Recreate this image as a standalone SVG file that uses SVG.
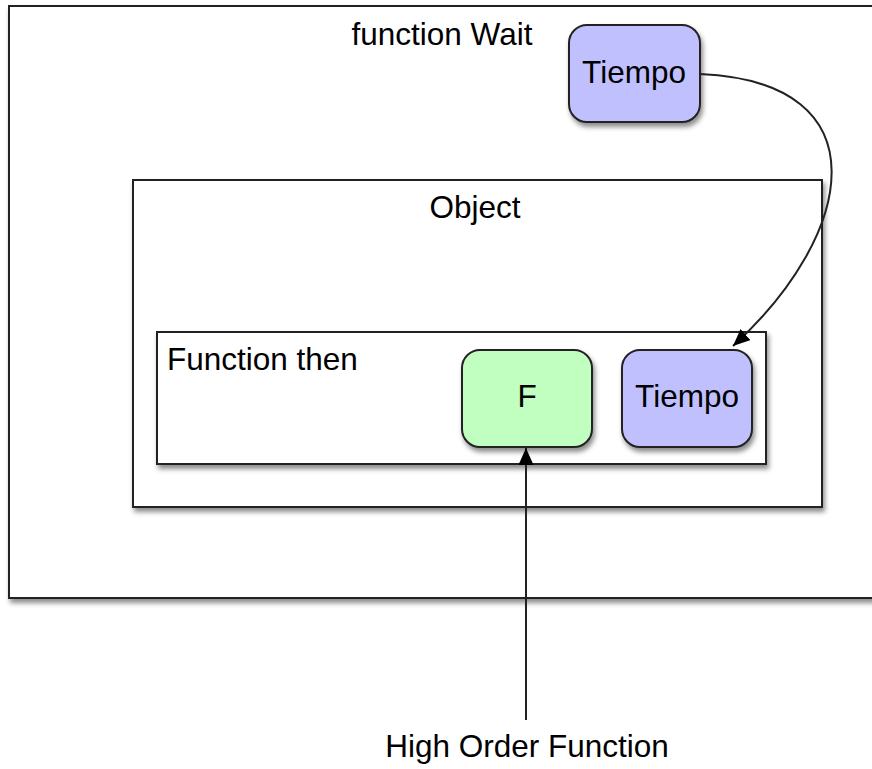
<svg xmlns="http://www.w3.org/2000/svg" width="872" height="769" viewBox="0 0 872 769">
<defs>
<filter id="sh" x="-10%" y="-10%" width="130%" height="130%">
<feDropShadow dx="2" dy="4" stdDeviation="2.5" flood-color="#000" flood-opacity="0.45"/>
</filter>
<marker id="ah2" viewBox="0 0 10 10" refX="10" refY="5" markerWidth="17" markerHeight="15" markerUnits="userSpaceOnUse" orient="auto" preserveAspectRatio="none">
<path d="M0,0 L10,5 L0,10 Z" fill="#000"/>
</marker>
</defs>
<style>
.box{fill:#fff;stroke:#222;stroke-width:2;filter:url(#sh)}
.node{stroke:#222;stroke-width:2;filter:url(#sh)}
.blue{fill:#c0c0ff}
.green{fill:#c0ffc0}
text{font-family:"Liberation Sans",Arial,sans-serif;font-size:31.5px;fill:#000}
.c{text-anchor:middle}
.conn{fill:none;stroke:#222;stroke-width:2}
</style>
<rect width="872" height="769" fill="#fff"/>
<g id="wait">
<rect class="box" x="9" y="6" width="880" height="592"/>
<text class="c" x="442" y="45">function Wait</text>
</g>
<g id="tiempo-top">
<rect class="node blue" x="569" y="25" width="131" height="97" rx="18"/>
<text class="c" x="634" y="83">Tiempo</text>
</g>
<g id="object">
<rect class="box" x="133" y="180" width="689" height="327"/>
<text class="c" x="475" y="218">Object</text>
</g>
<g id="then">
<rect class="box" x="157" y="332" width="609" height="132"/>
<text x="167" y="370">Function then</text>
</g>
<g id="f">
<rect class="node green" x="462" y="350" width="130" height="97" rx="18"/>
<text class="c" x="527" y="407">F</text>
</g>
<g id="tiempo-in">
<rect class="node blue" x="622" y="350" width="130" height="97" rx="18"/>
<text class="c" x="687" y="407">Tiempo</text>
</g>
<g id="hof">
<text class="c" x="527" y="757">High Order Function</text>
</g>
<g id="connectors">
<path class="conn" d="M700,74 C885,82 855,235 733,346" marker-end="url(#ah2)"/>
<path class="conn" d="M526,720 L526,448" marker-end="url(#ah2)"/>
</g>
</svg>
